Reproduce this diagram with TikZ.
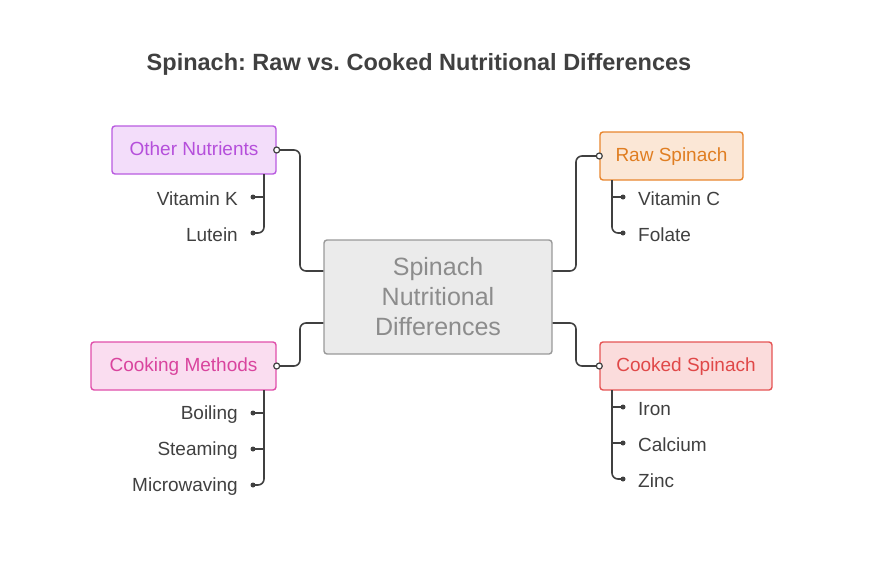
\documentclass[tikz,border=0pt]{standalone}
\usepackage{fontspec}
\setmainfont{Liberation Sans}
\begin{document}
\frenchspacing
\begin{tikzpicture}[x=1pt,y=-1pt,
 box/.style={draw,line width=1.4pt,rounded corners=3pt,inner sep=0pt,font=\fontsize{19}{22}\selectfont},
 con/.style={draw=black!75,line width=1.6pt,rounded corners=6pt},
 oc/.style={circle,draw=black!75,fill=white,line width=1.2pt,inner sep=0pt,minimum size=6pt},
 dt/.style={circle,fill=black!75,inner sep=0pt,minimum size=5pt},
 it/.style={font=\fontsize{19}{22}\selectfont,text=black!75,inner sep=0pt}]
\useasboundingbox (0,0) rectangle (876,576);
\definecolor{cg}{HTML}{EBEBEB}
\node[font=\bfseries\fontsize{23.5}{27}\selectfont,text=black!75] (t) at (419,64) {Spinach: Raw vs. Cooked Nutritional Differences};
\node[box,draw=black!40,fill=cg,text=black!45,minimum width=228pt,minimum height=114pt,align=center,font=\fontsize{25}{30}\selectfont] (c) at (438,297) {Spinach\\Nutritional\\Differences};
\definecolor{pf}{HTML}{F3DDFA}\definecolor{pd}{HTML}{B95BE0}\definecolor{pt}{HTML}{B54FDB}
\definecolor{of}{HTML}{FBE7D6}\definecolor{od}{HTML}{E8862E}\definecolor{ot}{HTML}{E07E22}
\definecolor{mf}{HTML}{FADDF0}\definecolor{md}{HTML}{E04FAA}\definecolor{mt}{HTML}{D9449E}
\definecolor{rf}{HTML}{FBDCDC}\definecolor{rd}{HTML}{E55454}\definecolor{rt}{HTML}{E04848}
\node[box,fill=pf,draw=pd,text=pt,minimum width=164pt,minimum height=48pt,text depth=3pt] (on) at (194,150) {Other Nutrients};
\node[box,fill=of,draw=od,text=ot,minimum width=143pt,minimum height=48pt,text depth=3pt] (rs) at (671.5,156) {Raw Spinach};
\node[box,fill=mf,draw=md,text=mt,minimum width=185pt,minimum height=48pt,text depth=3pt] (cm) at (183.5,366) {Cooking Methods};
\node[box,fill=rf,draw=rd,text=rt,minimum width=172pt,minimum height=48pt,text depth=3pt] (cs) at (686,366) {Cooked Spinach};
\draw[con] (c.west|-0,271) -| (300,200) |- (on.east);
\draw[con] (c.east|-0,271) -| (576,200) |- (rs.west);
\draw[con] (c.west|-0,323) -| (300,340) |- (cm.east);
\draw[con] (c.east|-0,323) -| (576,340) |- (cs.west);
\node[oc] at (on.east) {};\node[oc] at (rs.west) {};\node[oc] at (cm.east) {};\node[oc] at (cs.west) {};
\node[it,anchor=east] (k) at (238,199) {Vitamin K};
\node[it,anchor=east] (l) at (238,235) {Lutein};
\draw[con] (264,174) |- (253,233);
\draw[line width=1.6pt,draw=black!75] (264,197) -- (253,197);
\node[dt] at (253,197) {};\node[dt] at (253,233) {};
\node[it,anchor=west] (vc) at (638,199) {Vitamin C};
\node[it,anchor=west] (fo) at (638,235) {Folate};
\draw[con] (612,180) |- (623,233);
\draw[line width=1.6pt,draw=black!75] (612,197) -- (623,197);
\node[dt] at (623,197) {};\node[dt] at (623,233) {};
\node[it,anchor=east] (b) at (238,415) {Boiling};
\node[it,anchor=east] (s) at (238,451) {Steaming};
\node[it,anchor=east] (m) at (238,487) {Microwaving};
\draw[con] (264,390) |- (253,485);
\draw[line width=1.6pt,draw=black!75] (264,413) -- (253,413) (264,449) -- (253,449);
\node[dt] at (253,413) {};\node[dt] at (253,449) {};\node[dt] at (253,485) {};
\node[it,anchor=west] (ir) at (638,409) {Iron};
\node[it,anchor=west] (ca) at (638,445) {Calcium};
\node[it,anchor=west] (zn) at (638,481) {Zinc};
\draw[con] (612,390) |- (623,479);
\draw[line width=1.6pt,draw=black!75] (612,407) -- (623,407) (612,443) -- (623,443);
\node[dt] at (623,407) {};\node[dt] at (623,443) {};\node[dt] at (623,479) {};
\end{tikzpicture}
\end{document}
